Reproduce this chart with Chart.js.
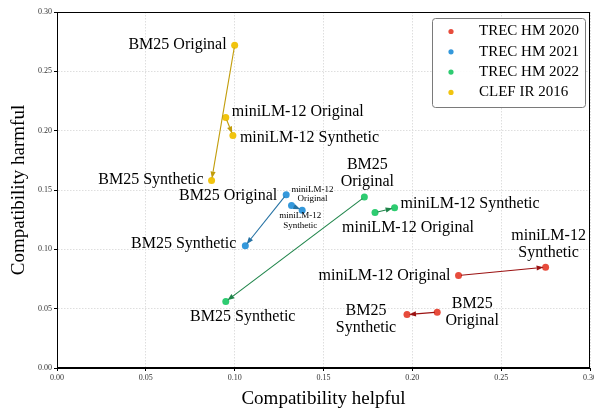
<!DOCTYPE html>
<html>
<head>
<meta charset="utf-8">
<script src="https://cdn.jsdelivr.net/npm/chart.js@4.4.1/dist/chart.umd.min.js"></script>
<style>
  html, body { margin: 0; padding: 0; background: #fff; }
  #wrap { width: 594px; height: 410px; }
</style>
</head>
<body>
<div id="wrap"><canvas id="c" width="594" height="410"></canvas></div>
<script>
// ---- Data ----
const seriesNames = ['TREC HM 2020', 'TREC HM 2021', 'TREC HM 2022', 'CLEF IR 2016'];
const pointNames = ['BM25 Original', 'BM25 Synthetic', 'miniLM-12 Original', 'miniLM-12 Synthetic'];

const trec2020Helpful = [0.214, 0.197, 0.226, 0.275];
const trec2020Harmful = [0.047, 0.045, 0.078, 0.085];
const trec2021Helpful = [0.129, 0.106, 0.132, 0.138];
const trec2021Harmful = [0.146, 0.103, 0.137, 0.133];
const trec2022Helpful = [0.173, 0.095, 0.179, 0.190];
const trec2022Harmful = [0.144, 0.056, 0.131, 0.135];
const clef2016Helpful = [0.100, 0.087, 0.095, 0.099];
const clef2016Harmful = [0.272, 0.158, 0.211, 0.196];

const xTickValues = [0.00, 0.05, 0.10, 0.15, 0.20, 0.25, 0.30];
const yTickValues = [0.00, 0.05, 0.10, 0.15, 0.20, 0.25, 0.30];

// arrows: from index -> to index (Original -> Synthetic)
const arrowPairs = [[0, 1], [2, 3]];

// ---- Styles ----
const FONT = "'Liberation Serif', 'DejaVu Serif', serif";
const pointColors = ['#e74c3c', '#3498db', '#2ecc71', '#f1c40f'];
const arrowColors = ['#9b1111', '#2471a3', '#1e8449', '#c29d0b'];

// label layout per series, per point: [dx, dy, align, fontSize, lines, lineHeight]
const labelLayout = [
  [ [35, 0, 'center', 16, ['BM25', 'Original'], 17],
    [-41, 4.5, 'center', 16, ['BM25', 'Synthetic'], 17],
    [-8, 0, 'right', 16, ['miniLM-12 Original'], 17],
    [3, -22.5, 'center', 16, ['miniLM-12', 'Synthetic'], 17] ],
  [ [-9, 1.5, 'right', 16, ['BM25 Original'], 17],
    [-9, -2, 'right', 16, ['BM25 Synthetic'], 17],
    [21, -11.5, 'center', 9, ['miniLM-12', 'Original'], 9.5],
    [-2, 10.5, 'center', 9, ['miniLM-12', 'Synthetic'], 9.5] ],
  [ [3, -23.5, 'center', 16, ['BM25', 'Original'], 17],
    [17, 15, 'center', 16, ['BM25 Synthetic'], 17],
    [33, 15, 'center', 16, ['miniLM-12 Original'], 17],
    [6, -4, 'left', 16, ['miniLM-12 Synthetic'], 17] ],
  [ [-8, 0, 'right', 16, ['BM25 Original'], 17],
    [-8, -1, 'right', 16, ['BM25 Synthetic'], 17],
    [6, -5.5, 'left', 16, ['miniLM-12 Original'], 17],
    [7, 2, 'left', 16, ['miniLM-12 Synthetic'], 17] ]
];

const helpfulArrays = [trec2020Helpful, trec2021Helpful, trec2022Helpful, clef2016Helpful];
const harmfulArrays = [trec2020Harmful, trec2021Harmful, trec2022Harmful, clef2016Harmful];

const datasets = seriesNames.map((name, i) => ({
  label: name,
  data: helpfulArrays[i].map((x, k) => ({ x: x, y: harmfulArrays[i][k] })),
  backgroundColor: pointColors[i],
  borderColor: pointColors[i],
  pointRadius: 3.5,
  pointBorderWidth: 0,
  pointHoverRadius: 3.5
}));

const framePlugin = {
  id: 'frame',
  beforeDatasetsDraw(chart) {
    const { ctx, chartArea: a } = chart;
    ctx.save();
    ctx.strokeStyle = '#000';
    ctx.lineWidth = 1;
    ctx.strokeRect(Math.round(a.left) + 0.5, Math.round(a.top) + 0.5,
                   Math.round(a.right - a.left) - 1, Math.round(a.bottom - a.top) - 1);
    ctx.restore();
  }
};

const arrowPlugin = {
  id: 'arrows',
  afterDatasetsDraw(chart) {
    const { ctx } = chart;
    const xs = chart.scales.x, ys = chart.scales.y;
    ctx.save();
    seriesNames.forEach((_, i) => {
      arrowPairs.forEach(([a, b]) => {
        const x1 = xs.getPixelForValue(helpfulArrays[i][a]);
        const y1 = ys.getPixelForValue(harmfulArrays[i][a]);
        const x2 = xs.getPixelForValue(helpfulArrays[i][b]);
        const y2 = ys.getPixelForValue(harmfulArrays[i][b]);
        const ang = Math.atan2(y2 - y1, x2 - x1);
        const shrinkA = 2.5, shrinkB = 2;
        const sx = x1 + Math.cos(ang) * shrinkA, sy = y1 + Math.sin(ang) * shrinkA;
        const ex = x2 - Math.cos(ang) * shrinkB, ey = y2 - Math.sin(ang) * shrinkB;
        const hl = 7, hw = 2.6;
        const bx = ex - Math.cos(ang) * hl, by = ey - Math.sin(ang) * hl;
        ctx.strokeStyle = arrowColors[i];
        ctx.fillStyle = arrowColors[i];
        ctx.lineWidth = 1.1;
        ctx.beginPath();
        ctx.moveTo(sx, sy);
        ctx.lineTo(bx, by);
        ctx.stroke();
        ctx.beginPath();
        ctx.moveTo(ex, ey);
        ctx.lineTo(bx + Math.sin(ang) * hw, by - Math.cos(ang) * hw);
        ctx.lineTo(bx - Math.sin(ang) * hw, by + Math.cos(ang) * hw);
        ctx.closePath();
        ctx.fill();
      });
    });
    ctx.restore();
  }
};

const labelPlugin = {
  id: 'pointLabels',
  afterDatasetsDraw(chart) {
    const { ctx } = chart;
    const xs = chart.scales.x, ys = chart.scales.y;
    ctx.save();
    ctx.fillStyle = '#000';
    ctx.textBaseline = 'middle';
    seriesNames.forEach((_, i) => {
      pointNames.forEach((_, k) => {
        const [dx, dy, align, size, lines, lh] = labelLayout[i][k];
        const px = xs.getPixelForValue(helpfulArrays[i][k]);
        const py = ys.getPixelForValue(harmfulArrays[i][k]);
        ctx.font = size + 'px ' + FONT;
        ctx.textAlign = align;
        const n = lines.length;
        lines.forEach((t, j) => {
          ctx.fillText(t, px + dx, py + dy + (j - (n - 1) / 2) * lh);
        });
      });
    });
    ctx.restore();
  }
};

const legendPlugin = {
  id: 'customLegend',
  afterDraw(chart) {
    const { ctx } = chart;
    const bx = 432, by = 18, bw = 153, bh = 89, r = 3;
    ctx.save();
    ctx.fillStyle = 'rgba(255,255,255,0.9)';
    ctx.strokeStyle = '#7a7a7a';
    ctx.lineWidth = 1;
    ctx.beginPath();
    ctx.roundRect(bx + 0.5, by + 0.5, bw, bh, r);
    ctx.fill();
    ctx.stroke();
    ctx.font = '15px ' + FONT;
    ctx.textBaseline = 'middle';
    ctx.textAlign = 'left';
    seriesNames.forEach((name, i) => {
      const y = 31.5 + i * 20.3;
      ctx.fillStyle = pointColors[i];
      ctx.beginPath();
      ctx.arc(451, y, 2.6, 0, Math.PI * 2);
      ctx.fill();
      ctx.fillStyle = '#000';
      ctx.fillText(name, 479, y);
    });
    ctx.restore();
  }
};

function fixY(scale) {
  scale.width = 57;
  scale.paddingTop = 0; scale.paddingBottom = 0;
}
function fixX(scale) {
  scale.height = 42;
  scale.paddingLeft = 0; scale.paddingRight = 0;
}

const axisCommon = {
  type: 'linear',
  min: 0,
  max: 0.3,
  grid: { color: '#dedede', lineWidth: 1, tickColor: '#000', tickLength: 3, drawTicks: true },
  border: { color: '#000', width: 1, dash: [1.5, 1.5] },
};

new Chart(document.getElementById('c'), {
  type: 'scatter',
  data: { datasets: datasets },
  options: {
    responsive: false,
    animation: false,
    devicePixelRatio: 1,
    layout: { padding: { left: 0, right: 4, top: 12, bottom: 0 } },
    plugins: { legend: { display: false }, tooltip: { enabled: false } },
    scales: {
      x: Object.assign({}, axisCommon, {
        position: 'bottom',
        afterBuildTicks: (s) => { s.ticks = xTickValues.map(v => ({ value: v })); },
        ticks: { font: { family: FONT, size: 8 }, color: '#333', padding: 2, maxRotation: 0, autoSkip: false,
                 callback: (v) => Number(v).toFixed(2) },
        title: { display: true, text: 'Compatibility helpful', font: { family: FONT, size: 19 }, color: '#000',
                 padding: { top: 2, bottom: 0 } },
        afterFit: fixX
      }),
      y: Object.assign({}, axisCommon, {
        position: 'left',
        afterBuildTicks: (s) => { s.ticks = yTickValues.map(v => ({ value: v })); },
        ticks: { font: { family: FONT, size: 8 }, color: '#333', padding: 2, autoSkip: false,
                 callback: (v) => Number(v).toFixed(2) },
        title: { display: true, text: 'Compatibility harmful', font: { family: FONT, size: 19 }, color: '#000',
                 padding: { top: 8, bottom: 2 } },
        afterFit: fixY
      })
    }
  },
  plugins: [framePlugin, arrowPlugin, labelPlugin, legendPlugin]
});
</script>
</body>
</html>
